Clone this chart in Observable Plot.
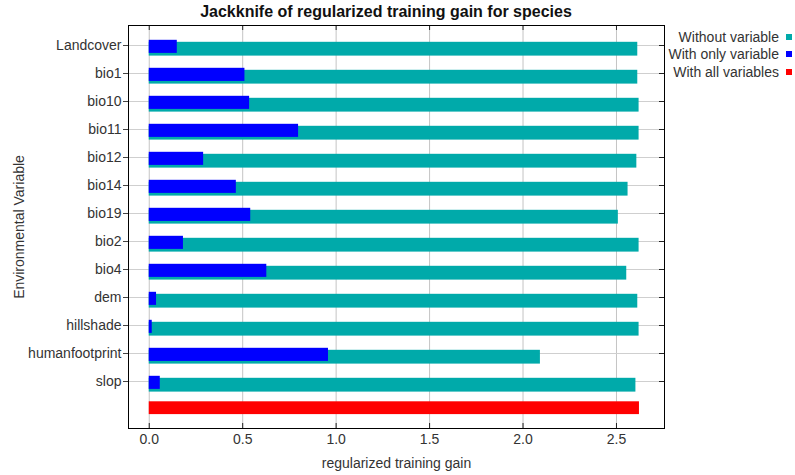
<!DOCTYPE html>
<html>
<head>
<meta charset="utf-8">
<script src="https://cdn.jsdelivr.net/npm/d3@7"></script>
<script src="https://cdn.jsdelivr.net/npm/@observablehq/plot@0.6"></script>
<style>
  body { margin: 0; background: #fff; font-family: "Liberation Sans", Arial, sans-serif; }
  #wrap { position: relative; width: 795px; height: 475px; }
  #title { position: absolute; top: 3px; left: 0; width: 772px; text-align: center;
           font-weight: bold; font-size: 16px; line-height: 18px; color: #111; }
  #legend { position: absolute; top: 28px; right: 3px; font-size: 14px; color: #333; }
  .row { display: flex; justify-content: flex-end; align-items: center; height: 17.5px; gap: 7px; }
  .sw { width: 6px; height: 6px; }
</style>
</head>
<body>
<div id="wrap">
  <div id="chart"></div>
  <div id="title">Jackknife of regularized training gain for species</div>
  <div id="legend"></div>
</div>
<script>
// Environmental variables, in display order
const variables = ["Landcover", "bio1", "bio10", "bio11", "bio12", "bio14", "bio19",
  "bio2", "bio4", "dem", "hillshade", "humanfootprint", "slop"];

// Regularized training gain of the model built without each variable
const withoutVariable = [2.614, 2.614, 2.621, 2.621, 2.609, 2.562, 2.510,
  2.621, 2.555, 2.614, 2.621, 2.093, 2.604];

// Regularized training gain of the model built with only that variable
const withOnlyVariable = [0.150, 0.512, 0.537, 0.799, 0.291, 0.466, 0.543,
  0.183, 0.629, 0.039, 0.016, 0.959, 0.059];

// Gain of the full model
const withAllVariables = 2.623;

const xTicks = [0, 0.5, 1.0, 1.5, 2.0, 2.5];

const seriesNames = ["Without variable", "With only variable", "With all variables"];
const seriesColors = ["#00aaaa", "#0000ff", "#ff0000"];

const ALL = "__all__";
const rows = variables.map((v, i) => ({variable: v, without: withoutVariable[i], only: withOnlyVariable[i]}));
const allRow = [{variable: ALL, gain: withAllVariables}];

const chart = Plot.plot({
  width: 795,
  height: 475,
  marginLeft: 128,
  marginRight: 131,
  marginTop: 25,
  marginBottom: 47,
  style: {fontFamily: "'Liberation Sans', Arial, sans-serif", fontSize: "14px", color: "#333", background: "#fff"},
  x: {domain: [-0.111, 2.757]},
  y: {type: "band", domain: [...variables, ALL], paddingInner: 0, paddingOuter: 0.145},
  marks: [
    Plot.gridX(xTicks, {stroke: "#c4c4c4", strokeOpacity: 1}),
    Plot.gridY(variables, {stroke: "#cfcfcf", strokeOpacity: 1}),
    Plot.barX(rows, {x: "without", y: "variable", fill: seriesColors[0], insetTop: 10.8, insetBottom: 3.4}),
    Plot.barX(rows, {x: "only", y: "variable", fill: seriesColors[1], insetTop: 8.8, insetBottom: 6.1}),
    Plot.barX(allRow, {x: "gain", y: "variable", fill: seriesColors[2], insetTop: 6.3, insetBottom: 8.9}),
    // inward ticks on the top, bottom and right edges
    Plot.ruleX(xTicks, {stroke: "#222", insetTop: 398}),
    Plot.ruleX(xTicks, {stroke: "#222", insetBottom: 398}),
    Plot.ruleY(variables, {y: d => d, stroke: "#222", insetLeft: 531}),
    Plot.frame({stroke: "#000"}),
    Plot.axisY(variables, {
      anchor: "left", tickSize: 5, tickPadding: 2, stroke: "#444", fill: "#333",
      label: "Environmental Variable", labelAnchor: "center", labelOffset: 114, labelArrow: "none"
    }),
    Plot.axisX(xTicks, {
      anchor: "bottom", tickSize: 0, tickPadding: 6, tickFormat: d3.format(".1f"), fill: "#333",
      label: "regularized training gain", labelAnchor: "center", labelOffset: 39, labelArrow: "none"
    })
  ]
});
document.getElementById("chart").appendChild(chart);

// Legend on the right
const legend = document.getElementById("legend");
seriesNames.forEach((name, i) => {
  const row = document.createElement("div");
  row.className = "row";
  const label = document.createElement("span");
  label.textContent = name;
  const sw = document.createElement("span");
  sw.className = "sw";
  sw.style.background = seriesColors[i];
  row.appendChild(label);
  row.appendChild(sw);
  legend.appendChild(row);
});
</script>
</body>
</html>
